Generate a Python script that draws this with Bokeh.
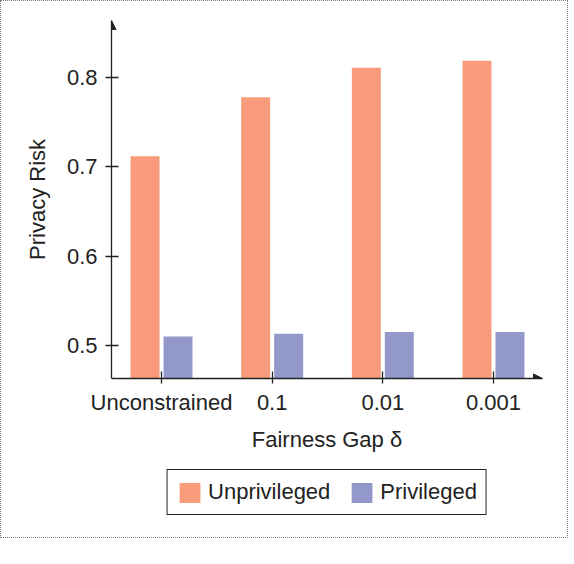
from bokeh.plotting import figure
from bokeh.layouts import column
from bokeh.models import (ColumnDataSource, FixedTicker, Legend, LegendItem,
                          Arrow, NormalHead)
from bokeh.transform import dodge
from bokeh.embed import file_html
from bokeh.resources import INLINE

# data
gaps = ["Unconstrained", "0.1", "0.01", "0.001"]
unprivileged = [0.712, 0.778, 0.811, 0.819]
privileged = [0.510, 0.513, 0.515, 0.515]
y_ticks = [0.5, 0.6, 0.7, 0.8]

ORANGE = "#F89B7B"
BLUE = "#9398CB"
INK = "#222222"
FONT = "Liberation Sans"
FS = "22px"

x_lo, x_hi = -0.452, 3.443
y_lo, y_hi = 0.463, 0.864
W = 566

src = ColumnDataSource(data=dict(pos=list(range(len(gaps))),
                                 unpriv=unprivileged, priv=privileged))

p = figure(width=W, height=458, x_range=(x_lo, x_hi), y_range=(y_lo, y_hi),
           output_backend="svg", toolbar_location=None,
           min_border_left=110, min_border_right=W - 541, min_border_top=19,
           min_border_bottom=81)
p.outline_line_color = None
p.grid.grid_line_color = None

p.vbar(x=dodge("pos", -0.149), top="unpriv", bottom=y_lo, width=0.262,
       source=src, fill_color=ORANGE, line_color=None)
p.vbar(x=dodge("pos", 0.149), top="priv", bottom=y_lo, width=0.262,
       source=src, fill_color=BLUE, line_color=None)

# axes
p.xaxis.ticker = FixedTicker(ticks=list(range(len(gaps))))
p.xaxis.major_label_overrides = {i: g for i, g in enumerate(gaps)}
p.yaxis.ticker = FixedTicker(ticks=y_ticks)
p.xaxis.axis_label = "Fairness Gap δ"
p.yaxis.axis_label = "Privacy Risk"
for ax in (p.xaxis, p.yaxis):
    ax.axis_line_color = INK
    ax.axis_line_width = 1.3
    ax.major_tick_line_color = INK
    ax.major_tick_line_width = 1.3
    ax.minor_tick_line_color = None
    ax.major_label_text_font = FONT
    ax.major_label_text_font_size = FS
    ax.major_label_text_color = INK
    ax.axis_label_text_font = FONT
    ax.axis_label_text_font_size = FS
    ax.axis_label_text_font_style = "normal"
    ax.axis_label_text_color = INK
p.xaxis.major_tick_in = 7
p.xaxis.major_tick_out = 5
p.xaxis.major_label_standoff = 6
p.xaxis.axis_label_standoff = 9
p.yaxis.major_tick_in = 7
p.yaxis.major_tick_out = 6
p.yaxis.major_label_standoff = 8
p.yaxis.axis_label_standoff = 14

# arrow heads at the axis ends
for xe, ye in ((x_lo, y_hi), (x_hi, y_lo)):
    p.add_layout(Arrow(end=NormalHead(size=9, fill_color=INK, line_color=INK,
                                      line_width=1),
                       x_start=x_lo, y_start=y_lo, x_end=xe, y_end=ye,
                       line_alpha=0))

# legend lives in its own strip under the chart
leg = figure(width=W, height=78, x_range=(10, 11), y_range=(10, 11),
             x_axis_type=None, y_axis_type=None, output_backend="svg",
             toolbar_location=None, min_border_left=110,
             min_border_right=W - 541, min_border_top=0, min_border_bottom=0)
leg.outline_line_color = None
l1 = leg.vbar(x="pos", top="unpriv", width=0.262, source=src,
              fill_color=ORANGE, line_color=None)
l2 = leg.vbar(x="pos", top="priv", width=0.262, source=src,
              fill_color=BLUE, line_color=None)
legend = Legend(items=[LegendItem(label="Unprivileged", renderers=[l1]),
                       LegendItem(label="Privileged", renderers=[l2])],
                orientation="horizontal", location="top_center")
legend.label_text_font = FONT
legend.label_text_font_size = FS
legend.label_text_color = INK
legend.glyph_width = 26
legend.glyph_height = 25
legend.padding = 9
legend.spacing = 18
legend.label_standoff = 6
legend.border_line_color = INK
legend.border_line_alpha = 1.0
legend.border_line_width = 1.5
legend.margin = 10
leg.add_layout(legend)

page = column(p, leg, spacing=0)
page.styles = {"border": "1px dotted #777777"}

open("out.html", "w").write(file_html(page, INLINE))
